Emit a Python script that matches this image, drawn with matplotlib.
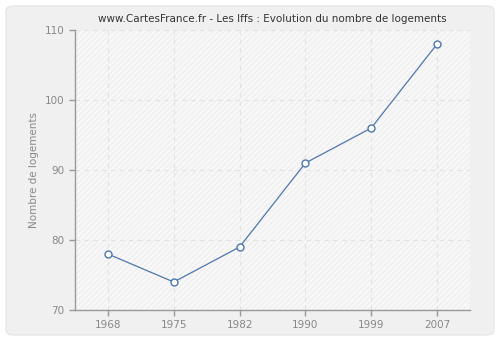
import matplotlib

matplotlib.use("Agg")
import matplotlib.pyplot as plt  # noqa: E402
from matplotlib.patches import FancyBboxPatch  # noqa: E402

years = ["1968", "1975", "1982", "1990", "1999", "2007"]
logements = [78, 74, 79, 91, 96, 108]
y_ticks = [70, 80, 90, 100, 110]

LINE = "#4f77aa"
TXT = "#888888"
GRID = {"color": "#e2e2e2", "linewidth": 0.8, "linestyle": (0, (4, 4))}

fig = plt.figure(figsize=(5, 3.4), dpi=100)
fig.patch.set_facecolor("white")
panel = FancyBboxPatch(
    (6 / 500, 5 / 340), 488 / 500, 329 / 340,
    boxstyle="round,pad=0,rounding_size=0.015",
    transform=fig.transFigure, facecolor="#f0f0f0", edgecolor="#e4e4e4",
    linewidth=0.8, zorder=-10,
)
fig.patches.append(panel)

ax = fig.add_axes([75 / 500, 30 / 340, 395 / 500, 280 / 340])
ax.set_facecolor("#f8f8f8")
ax.add_patch(plt.Rectangle((0, 0), 1, 1, transform=ax.transAxes, fill=False,
                           hatch="//////", edgecolor="#efefef", linewidth=0, zorder=0))

x = list(range(len(years)))
ax.plot(x, logements, color=LINE, linewidth=0.9, marker="o", markersize=5,
        markerfacecolor="white", markeredgecolor=LINE, markeredgewidth=1.0, zorder=3)

ax.set_xlim(-0.5, len(years) - 0.5)
ax.set_ylim(70, 110)
ax.set_xticks(x, years)
ax.set_yticks(y_ticks)
ax.grid(True, **GRID)
ax.set_axisbelow(True)

for side in ("top", "right"):
    ax.spines[side].set_visible(False)
for side in ("left", "bottom"):
    ax.spines[side].set_color("#999999")
    ax.spines[side].set_linewidth(1.0)
ax.tick_params(colors="#999999", labelcolor=TXT, labelsize=7.5, length=4, width=1.0)

ax.set_ylabel("Nombre de logements", color=TXT, fontsize=7.5)
ax.set_title("www.CartesFrance.fr - Les Iffs : Evolution du nombre de logements",
             fontsize=7.5, color="#333333", pad=6)

fig.savefig("out.png", dpi=100, facecolor=fig.get_facecolor())
